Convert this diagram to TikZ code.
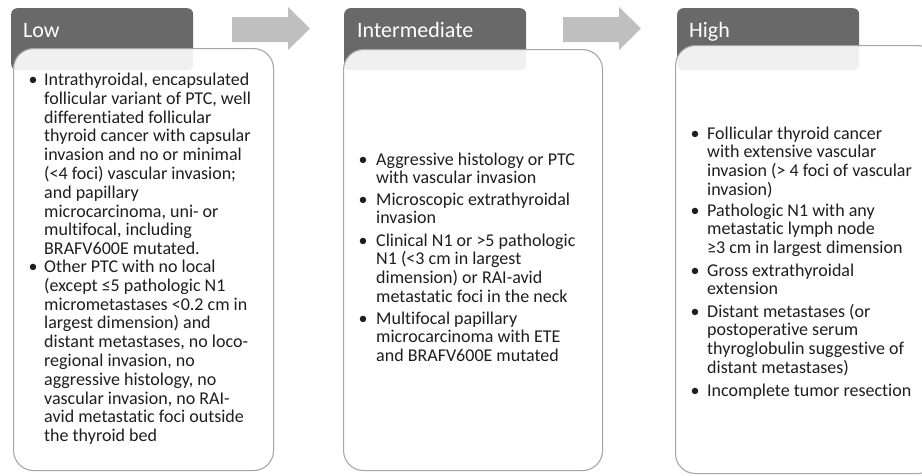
\documentclass[tikz,border=0pt]{standalone}
\usepackage{fontspec}
\setmainfont{Carlito}[Ligatures=CommonOff]
\definecolor{hdr}{RGB}{105,105,105}
\definecolor{arr}{RGB}{191,191,191}
\definecolor{brd}{RGB}{166,166,166}
\definecolor{txtc}{RGB}{30,30,30}
\newcommand\bodyfont{\fontsize{18}{18.8}\selectfont}
\newcommand\colpar[1]{\parbox[t]{300pt}{\raggedright #1}}
\begin{document}
\begin{tikzpicture}[x=1pt,y=-1pt,
  hdrbox/.style={fill=hdr, rounded corners=6pt, inner sep=0pt, anchor=north west, minimum width=182pt, minimum height=62pt},
  bodybox/.style={draw=brd, line width=1.1pt, fill=white, fill opacity=0.9, rounded corners=20pt, inner sep=0pt, anchor=north west},
  hdrtxt/.style={text=white, font=\fontsize{22}{26}\selectfont, anchor=base west, inner sep=0pt},
  txt/.style={text=txtc, font=\bodyfont, anchor=base west, inner sep=0pt},
  bul/.style={text=txtc, font=\bodyfont, anchor=base, inner sep=0pt},
  arrowshape/.style={fill=arr}]
\useasboundingbox (0,0) rectangle (922,475);
\clip (0,0) rectangle (922,475);
\fill[white] (0,0) rectangle (922,475);

% block arrows
\fill[arrowshape] (232,17) -- (288,17) -- (288,7) -- (310,28.5) -- (288,50) -- (288,42) -- (232,42) -- cycle;
\fill[arrowshape] (563,17) -- (619,17) -- (619,7) -- (641,28.5) -- (619,50) -- (619,42) -- (563,42) -- cycle;

% headers
\node[hdrbox] (lowhdr) at (11,8) {};
\node[hdrbox] (midhdr) at (344,8) {};
\node[hdrbox] (highhdr) at (677,8) {};
\node[hdrtxt] (lowlbl) at (23,37.5) {Low};
\node[hdrtxt] (midlbl) at (357,37.5) {Intermediate};
\node[hdrtxt] (highlbl) at (689,37.5) {High};

% bodies
\node[bodybox, minimum width=260pt, minimum height=422pt] (lowbody) at (13,48) {};
\node[bodybox, minimum width=259pt, minimum height=421pt] (midbody) at (343,49) {};
\node[bodybox, minimum width=262pt, minimum height=428pt] (highbody) at (675,45) {};

% Low text
\node[bul] (lb1) at (33,85.5) {•};
\node[txt] (lt1) at (44,85.5) {\colpar{Intrathyroidal, encapsulated\\ follicular variant of PTC, well\\ differentiated follicular\\ thyroid cancer with capsular\\ invasion and no or minimal\\ (<4 foci) vascular invasion;\\ and papillary\\ microcarcinoma, uni- or\\ multifocal, including\\ BRAFV600E mutated.}};
\node[bul] (lb2) at (33,272.5) {•};
\node[txt] (lt2) at (44,272.5) {\colpar{Other PTC with no local\\ (except ≤5 pathologic N1\\ micrometastases <0.2 cm in\\ largest dimension) and\\ distant metastases, no loco-\\ regional invasion, no\\ aggressive histology, no\\ vascular invasion, no RAI-\\ avid metastatic foci outside\\ the thyroid bed}};

% Intermediate text
\node[bul] (mb1) at (363,165) {•};
\node[txt] (mt1) at (376,165) {\colpar{Aggressive histology or PTC\\ with vascular invasion}};
\node[bul] (mb2) at (363,205) {•};
\node[txt] (mt2) at (376,205) {\colpar{Microscopic extrathyroidal\\ invasion}};
\node[bul] (mb3) at (363,246) {•};
\node[txt] (mt3) at (376,246) {\colpar{Clinical N1 or >5 pathologic\\ N1 (<3 cm in largest\\ dimension) or RAI-avid\\ metastatic foci in the neck}};
\node[bul] (mb4) at (363,324) {•};
\node[txt] (mt4) at (376,324) {\colpar{Multifocal papillary\\ microcarcinoma with ETE\\ and BRAFV600E mutated}};

% High text
\node[bul] (hb1) at (695,139) {•};
\node[txt] (ht1) at (707,139) {\colpar{Follicular thyroid cancer\\ with extensive vascular\\ invasion (> 4 foci of vascular\\ invasion)}};
\node[bul] (hb2) at (695,216) {•};
\node[txt] (ht2) at (707,216) {\colpar{Pathologic N1 with any\\ metastatic lymph node\\ ≥3 cm in largest dimension}};
\node[bul] (hb3) at (695,276) {•};
\node[txt] (ht3) at (707,276) {\colpar{Gross extrathyroidal\\ extension}};
\node[bul] (hb4) at (695,317) {•};
\node[txt] (ht4) at (707,317) {\colpar{Distant metastases (or\\ postoperative serum\\ thyroglobulin suggestive of\\ distant metastases)}};
\node[bul] (hb5) at (695,396) {•};
\node[txt] (ht5) at (707,396) {\colpar{Incomplete tumor resection}};
\end{tikzpicture}
\end{document}
